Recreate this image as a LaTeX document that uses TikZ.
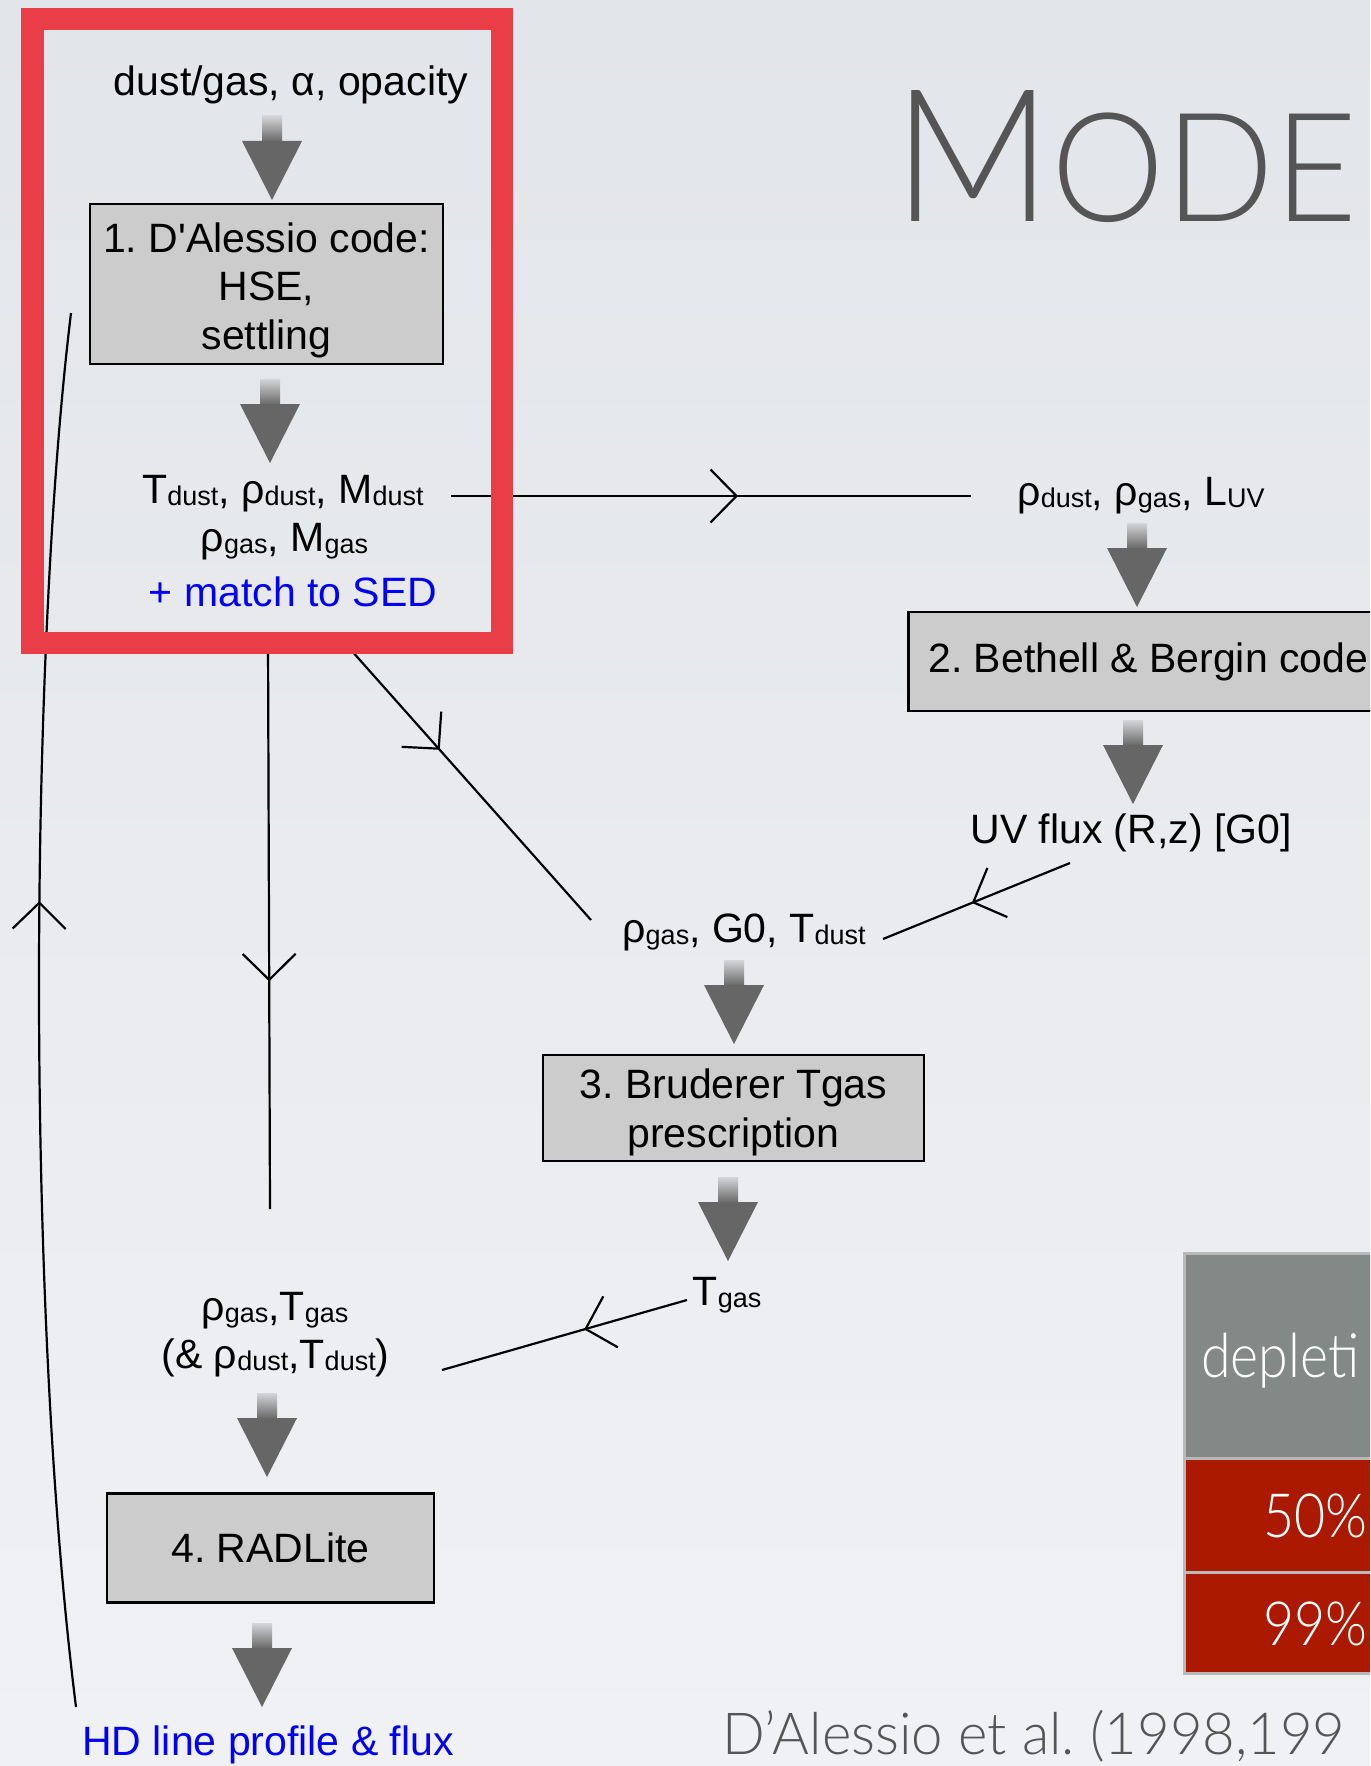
\documentclass[tikz,border=0pt]{standalone}
\usepackage{fontspec}
\setmainfont{Liberation Sans}[Ligatures=TeXOff]
\IfFontExistsTF{Lato Light}{\newfontfamily\thinfont{Lato Light}}{\IfFontExistsTF{Open Sans Light}{\newfontfamily\thinfont{Open Sans Light}}{\newfontfamily\thinfont{Lato}}}
\usetikzlibrary{arrows.meta,decorations.markings}

\definecolor{bgtop}{RGB}{226,229,233}
\definecolor{bgbot}{RGB}{240,241,244}
\definecolor{framered}{RGB}{233,62,72}
\definecolor{boxgray}{RGB}{204,204,204}
\definecolor{arrgray}{RGB}{102,102,102}
\definecolor{arrlight}{RGB}{212,213,216}
\definecolor{titlegray}{RGB}{85,85,85}
\definecolor{hdrgray}{RGB}{131,137,134}
\definecolor{rowred}{RGB}{170,25,0}
\definecolor{tblborder}{RGB}{185,185,185}
\definecolor{textblue}{RGB}{0,0,245}

\newcommand\sbs[1]{\raisebox{-2pt}{\fontsize{27}{30}\selectfont #1}}
\newcommand\bigf{\fontsize{41}{48.5}\selectfont}
\newcommand\thinf{\thinfont\fontsize{61}{64}\selectfont}
\newcommand\lowered[2]{\raisebox{-#1}[\height][\depth]{\begin{tabular}{@{}c@{}}#2\end{tabular}}}
\newcommand\narrow[1]{\scalebox{0.88}[1]{#1}}

\newcommand\blkarrow[2]{%
  \shade[top color=arrlight, bottom color=arrgray] ({#1-10},{#2}) rectangle ({#1+10},{#2+26});
  \fill[arrgray] ({#1-30},{#2+25}) -- ({#1+30},{#2+25}) -- ({#1},{#2+84}) -- cycle;
}

\tikzset{
  txt/.style={font=\bigf, inner sep=0pt, anchor=base},
  procbox/.style={draw=black, line width=2.6pt, fill=boxgray, font=\bigf, align=center, inner sep=0pt},
  conn/.style={draw=black, line width=2.2pt},
  chev/.style={postaction={decorate}, decoration={markings, mark=at position #1 with {\arrow{Straight Barb[length=26pt,width=53pt]}}}},
  tbltxt/.style={font=\thinf, text=white, inner sep=0pt, anchor=base west},
}

\begin{document}
\frenchspacing
\begin{tikzpicture}[x=1pt,y=-1pt]
\useasboundingbox (0,0) rectangle (1370,1766);
\clip (0,0) rectangle (1370,1766);
\shade[top color=bgtop, bottom color=bgbot] (0,0) rectangle (1370,1766);

% title and citation
\node[anchor=base west, inner sep=0pt, text=titlegray] (title) at (893,221)
  {\resizebox{464pt}{131pt}{\thinfont\fontsize{100}{100}\selectfont M\fontsize{82}{82}\selectfont ODE}};
\node[anchor=base west, inner sep=0pt, text=titlegray, font=\thinfont\fontsize{58}{62}\selectfont] (cite) at (722,1754) {\scalebox{0.97}[1]{D’Alessio et al. (1998,199}};

% table
\fill[hdrgray] (1184,1253) rectangle (1380,1458);
\fill[rowred] (1184,1458) rectangle (1380,1673);
\draw[tblborder, line width=3pt] (1184,1253) rectangle (1380,1673);
\draw[tblborder, line width=3pt] (1184,1458) -- (1380,1458);
\draw[tblborder, line width=3pt] (1184,1572) -- (1380,1572);
\node[tbltxt] (thdr) at (1201,1377) {\narrow{depleti}};
\node[tbltxt] (trow1) at (1263,1537) {\narrow{50\%}};
\node[tbltxt] (trow2) at (1263,1645) {\narrow{99\%}};

% texts
\node[txt] (inp) at (291,96) {dust/gas, α, opacity};
\node[procbox, minimum width=353pt, minimum height=160pt] (b1) at (266.5,284) {\lowered{7pt}{1. D'Alessio code:\\HSE,\\settling}};
\node[txt] (out1a) at (283,503) {T\sbs{dust}, ρ\sbs{dust}, M\sbs{dust}};
\node[txt] (out1b) at (284.5,551) {ρ\sbs{gas}, M\sbs{gas}};
\node[txt, text=textblue] (out1c) at (293,606) {+ match to SED};

\node[txt] (in2) at (1141,505) {ρ\sbs{dust}, ρ\sbs{gas}, L\sbs{UV}};
\node[procbox, anchor=west, minimum height=99pt, inner xsep=20pt] (b2) at (907,661.5) {2. Bethell \& Bergin code};
\node[txt] (out2) at (1131,843) {UV flux (R,z) [G0]};

\node[txt] (in3) at (744,942) {ρ\sbs{gas}, G0, T\sbs{dust}};
\node[procbox, line width=2pt, minimum width=381pt, minimum height=106pt] (b3) at (733.5,1107.5) {\lowered{6pt}{3. Bruderer Tgas\\prescription}};
\node[txt] (out3) at (727,1305) {T\sbs{gas}};

\node[txt] (in4a) at (275,1320) {ρ\sbs{gas},T\sbs{gas}};
\node[txt] (in4b) at (275.5,1368) {(\& ρ\sbs{dust},T\sbs{dust})};
\node[procbox, minimum width=327pt, minimum height=109pt] (b4) at (270.5,1548) {4. RADLite};
\node[txt, text=textblue] (out4) at (268,1755) {HD line profile \& flux};

% block arrows
\blkarrow{272}{116}
\blkarrow{270}{379}
\blkarrow{1137}{523}
\blkarrow{1133}{720}
\blkarrow{734}{960}
\blkarrow{728}{1177}
\blkarrow{267}{1393}
\blkarrow{262}{1623}

% connectors
\coordinate (hA) at (451,496); \coordinate (hB) at (971,496);
\draw[conn, chev=0.552] (hA) -- (hB);
\coordinate (dA) at (343,641); \coordinate (dB) at (591,920);
\draw[conn, chev=0.39] (dA) -- (dB);
\coordinate (vA) at (268,640); \coordinate (vB) at (270,1209);
\draw[conn, chev=0.60] (vA) -- (vB);
\coordinate (uA) at (1070,863); \coordinate (uB) at (883,939);
\draw[conn, chev=0.525] (uA) -- (uB);
\coordinate (tA) at (687,1300); \coordinate (tB) at (442,1370);
\draw[conn, chev=0.42] (tA) -- (tB);
\coordinate (cA) at (76,1707); \coordinate (cB) at (71,313);
\draw[conn, chev=0.578] (cA) .. controls (25,1300) and (30,650) .. (cB);

% red highlight frame
\draw[framered, line width=22.5pt] (32.25,19.25) rectangle (501.75,642.75);
\end{tikzpicture}
\end{document}
